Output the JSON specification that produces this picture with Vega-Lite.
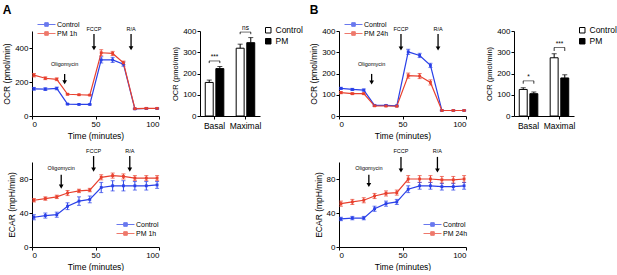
{
"$schema": "https://vega.github.io/schema/vega-lite/v6.json",
"padding": {"left": 2, "top": 4, "right": 0, "bottom": 0},
"config": {
  "font": "Liberation Sans",
  "view": {"stroke": null},
  "axis": {"grid": false, "domainColor": "black", "tickColor": "black", "labelColor": "black", "titleColor": "black", "labelFontSize": 8, "titleFontSize": 8.5, "titleFontWeight": "normal", "tickSize": 3, "labelPadding": 1, "titlePadding": 3, "labelOverlap": false, "labelSeparation": -100},
  "axisY": {"labelOverlap": false, "tickCount": 5, "labelSeparation": -100, "labelFlush": false},
  "axisX": {"labelOverlap": false, "labelSeparation": -100},
  "legend": {"labelColor": "black", "labelFontSize": 7.5},
  "title": {"color": "black"}
},
"datasets": {
  "ocrA": [
    {"t":1.5,"g":"Control","mean":160,"sem":8},{"t":10.5,"g":"Control","mean":158,"sem":8},{"t":19.5,"g":"Control","mean":162,"sem":8},{"t":28,"g":"Control","mean":70,"sem":3},{"t":37,"g":"Control","mean":68,"sem":3},{"t":45.5,"g":"Control","mean":68,"sem":3},{"t":54.5,"g":"Control","mean":330,"sem":18},{"t":63.5,"g":"Control","mean":330,"sem":15},{"t":72,"g":"Control","mean":305,"sem":12},{"t":81,"g":"Control","mean":42,"sem":3},{"t":90,"g":"Control","mean":44,"sem":3},{"t":98.5,"g":"Control","mean":44,"sem":3},
    {"t":1.5,"g":"PM 1h","mean":240,"sem":10},{"t":10.5,"g":"PM 1h","mean":222,"sem":8},{"t":19.5,"g":"PM 1h","mean":216,"sem":8},{"t":28,"g":"PM 1h","mean":128,"sem":4},{"t":37,"g":"PM 1h","mean":125,"sem":3},{"t":45.5,"g":"PM 1h","mean":123,"sem":3},{"t":54.5,"g":"PM 1h","mean":372,"sem":18},{"t":63.5,"g":"PM 1h","mean":368,"sem":12},{"t":72,"g":"PM 1h","mean":313,"sem":10},{"t":81,"g":"PM 1h","mean":43,"sem":3},{"t":90,"g":"PM 1h","mean":45,"sem":3},{"t":98.5,"g":"PM 1h","mean":45,"sem":3}
  ],
  "ocrB": [
    {"t":1.5,"g":"Control","mean":130,"sem":5},{"t":10.5,"g":"Control","mean":125,"sem":5},{"t":19.5,"g":"Control","mean":122,"sem":5},{"t":28,"g":"Control","mean":50,"sem":3},{"t":37,"g":"Control","mean":50,"sem":3},{"t":45.5,"g":"Control","mean":48,"sem":3},{"t":54.5,"g":"Control","mean":302,"sem":12},{"t":63.5,"g":"Control","mean":285,"sem":10},{"t":72,"g":"Control","mean":238,"sem":10},{"t":81,"g":"Control","mean":26,"sem":2},{"t":90,"g":"Control","mean":26,"sem":2},{"t":98.5,"g":"Control","mean":26,"sem":2},
    {"t":1.5,"g":"PM 24h","mean":110,"sem":5},{"t":10.5,"g":"PM 24h","mean":105,"sem":4},{"t":19.5,"g":"PM 24h","mean":105,"sem":4},{"t":28,"g":"PM 24h","mean":48,"sem":3},{"t":37,"g":"PM 24h","mean":47,"sem":3},{"t":45.5,"g":"PM 24h","mean":46,"sem":3},{"t":54.5,"g":"PM 24h","mean":190,"sem":12},{"t":63.5,"g":"PM 24h","mean":188,"sem":12},{"t":72,"g":"PM 24h","mean":158,"sem":12},{"t":81,"g":"PM 24h","mean":26,"sem":2},{"t":90,"g":"PM 24h","mean":26,"sem":2},{"t":98.5,"g":"PM 24h","mean":26,"sem":2}
  ],
  "ecarA": [
    {"t":1.5,"g":"Control","mean":35,"sem":3},{"t":10.5,"g":"Control","mean":37,"sem":3},{"t":19.5,"g":"Control","mean":38,"sem":3},{"t":28,"g":"Control","mean":48,"sem":4},{"t":37,"g":"Control","mean":54,"sem":5},{"t":45.5,"g":"Control","mean":56,"sem":4},{"t":54.5,"g":"Control","mean":70,"sem":6},{"t":63.5,"g":"Control","mean":72,"sem":6},{"t":72,"g":"Control","mean":72,"sem":6},{"t":81,"g":"Control","mean":72,"sem":5},{"t":90,"g":"Control","mean":72,"sem":5},{"t":98.5,"g":"Control","mean":73,"sem":4},
    {"t":1.5,"g":"PM 1h","mean":55,"sem":2},{"t":10.5,"g":"PM 1h","mean":57,"sem":2},{"t":19.5,"g":"PM 1h","mean":59,"sem":2},{"t":28,"g":"PM 1h","mean":63.5,"sem":3},{"t":37,"g":"PM 1h","mean":66,"sem":2},{"t":45.5,"g":"PM 1h","mean":67,"sem":2},{"t":54.5,"g":"PM 1h","mean":82,"sem":3},{"t":63.5,"g":"PM 1h","mean":84,"sem":3},{"t":72,"g":"PM 1h","mean":83,"sem":3},{"t":81,"g":"PM 1h","mean":81,"sem":3},{"t":90,"g":"PM 1h","mean":81,"sem":3},{"t":98.5,"g":"PM 1h","mean":81,"sem":3}
  ],
  "ecarB": [
    {"t":1.5,"g":"Control","mean":33,"sem":2},{"t":10.5,"g":"Control","mean":34,"sem":2},{"t":19.5,"g":"Control","mean":34,"sem":2},{"t":28,"g":"Control","mean":45,"sem":3},{"t":37,"g":"Control","mean":51,"sem":3},{"t":45.5,"g":"Control","mean":53,"sem":3},{"t":54.5,"g":"Control","mean":68,"sem":4},{"t":63.5,"g":"Control","mean":72,"sem":4},{"t":72,"g":"Control","mean":72,"sem":4},{"t":81,"g":"Control","mean":71,"sem":4},{"t":90,"g":"Control","mean":71,"sem":4},{"t":98.5,"g":"Control","mean":72,"sem":4},
    {"t":1.5,"g":"PM 24h","mean":51,"sem":3},{"t":10.5,"g":"PM 24h","mean":53,"sem":3},{"t":19.5,"g":"PM 24h","mean":55,"sem":3},{"t":28,"g":"PM 24h","mean":60,"sem":3},{"t":37,"g":"PM 24h","mean":63,"sem":3},{"t":45.5,"g":"PM 24h","mean":64,"sem":3},{"t":54.5,"g":"PM 24h","mean":80,"sem":4},{"t":63.5,"g":"PM 24h","mean":80,"sem":4},{"t":72,"g":"PM 24h","mean":80,"sem":4},{"t":81,"g":"PM 24h","mean":79,"sem":4},{"t":90,"g":"PM 24h","mean":79,"sem":4},{"t":98.5,"g":"PM 24h","mean":80,"sem":4}
  ],
  "arrOcrA": [
    {"x":25.7,"y0":247,"y1":198,"ylab":290,"label":"Oligomycin"},
    {"x":48.8,"y0":482,"y1":398,"ylab":492,"label":"FCCP"},
    {"x":78,"y0":482,"y1":398,"ylab":492,"label":"R/A"}
  ],
  "arrOcrB": [
    {"x":25.7,"y0":198,"y1":158,"ylab":232,"label":"Oligomycin"},
    {"x":48.8,"y0":386,"y1":318,"ylab":394,"label":"FCCP"},
    {"x":78,"y0":386,"y1":318,"ylab":394,"label":"R/A"}
  ],
  "arrEcarA": [
    {"x":23,"y0":85,"y1":71,"ylab":89,"label":"Oligomycin"},
    {"x":48.5,"y0":107,"y1":91,"ylab":110,"label":"FCCP"},
    {"x":77,"y0":107,"y1":91,"ylab":110,"label":"R/A"}
  ],
  "arrEcarB": [
    {"x":23.5,"y0":85,"y1":73,"ylab":90,"label":"Oligomycin"},
    {"x":48.8,"y0":106,"y1":90,"ylab":110,"label":"FCCP"},
    {"x":77.5,"y0":106,"y1":90,"ylab":110,"label":"R/A"}
  ],
  "barA": [
    {"cat":"Basal","g":"Control","mean":158,"hi":169},{"cat":"Basal","g":"PM","mean":223,"hi":233},
    {"cat":"Maximal","g":"Control","mean":319,"hi":338},{"cat":"Maximal","g":"PM","mean":345,"hi":369}
  ],
  "barB": [
    {"cat":"Basal","g":"Control","mean":125,"hi":133},{"cat":"Basal","g":"PM","mean":105,"hi":113},
    {"cat":"Maximal","g":"Control","mean":274,"hi":293},{"cat":"Maximal","g":"PM","mean":179,"hi":194}
  ],
  "sigA": [
    {"cat":"Basal","g":"Control","top":259,"leg":249},{"cat":"Basal","g":"PM","top":259,"leg":249},
    {"cat":"Maximal","g":"Control","top":395,"leg":385},{"cat":"Maximal","g":"PM","top":395,"leg":385}
  ],
  "sigLabA": [
    {"cat":"Basal","top":259,"label":"***"},{"cat":"Maximal","top":395,"label":"ns"}
  ],
  "sigB": [
    {"cat":"Basal","g":"Control","top":165,"leg":152},{"cat":"Basal","g":"PM","top":165,"leg":152},
    {"cat":"Maximal","g":"Control","top":322,"leg":306},{"cat":"Maximal","g":"PM","top":322,"leg":306}
  ],
  "sigLabB": [
    {"cat":"Basal","top":165,"label":"*"},{"cat":"Maximal","top":322,"label":"***"}
  ]
},
"resolve": {"scale": {"color": "independent", "fill": "independent"}, "legend": {"color": "independent", "fill": "independent"}},
"spacing": 6,
"hconcat": [
  {
    "title": {"text": "A", "anchor": "start", "fontSize": 12, "fontWeight": "bold", "offset": 4},
    "resolve": {"scale": {"color": "independent", "fill": "independent"}, "legend": {"color": "independent", "fill": "independent"}},
    "spacing": 11,
    "hconcat": [
      {
        "spacing": 8,
        "resolve": {"scale": {"color": "independent"}, "legend": {"color": "independent"}},
        "vconcat": [
          {
            "width": 127, "height": 85,
            "layer": [
              {"data": {"name": "ocrA"}, "mark": {"type": "errorbar", "ticks": {"size": 4}, "thickness": 1},
               "encoding": {"x": {"field": "t", "type": "quantitative", "scale": {"domain": [0, 100]}, "axis": {"values": [0, 50, 100], "labelOverlap": false, "title": "Time (minutes)"}},
                            "y": {"field": "mean", "type": "quantitative", "scale": {"domain": [0, 500]}, "title": "OCR (pmol/min)", "axis": {"values": [0, 100, 200, 300, 400, 500], "labelOverlap": false}},
                            "yError": {"field": "sem"},
                            "color": {"field": "g", "type": "nominal", "scale": {"domain": ["Control", "PM 1h"], "range": ["#2a40e8", "#e8402e"]}, "legend": {"orient": "none", "legendX": 3, "legendY": -10, "title": null, "symbolType": "M-3,0H3M-0.6,-0.6H0.6V0.6H-0.6Z", "symbolSize": 36, "symbolStrokeWidth": 1, "labelFontSize": 7, "rowPadding": 0, "labelOffset": 7, "symbolOffset": 8}}}},
              {"data": {"name": "ocrA"}, "mark": {"type": "line", "strokeWidth": 1.2, "point": {"shape": "square", "size": 8, "filled": true}},
               "encoding": {"x": {"field": "t", "type": "quantitative"},
                            "y": {"field": "mean", "type": "quantitative", "title": "OCR (pmol/min)", "axis": {"values": [0, 100, 200, 300, 400, 500], "labelOverlap": false}},
                            "color": {"field": "g", "type": "nominal", "legend": {"orient": "none", "legendX": 3, "legendY": -10, "title": null, "symbolType": "M-3,0H3M-0.6,-0.6H0.6V0.6H-0.6Z", "symbolSize": 36, "symbolStrokeWidth": 1, "labelFontSize": 7, "rowPadding": 0, "labelOffset": 7, "symbolOffset": 8}}}},
              {"data": {"name": "arrOcrA"}, "mark": {"type": "rule", "strokeWidth": 1.3, "color": "black"}, "encoding": {"x": {"field": "x", "type": "quantitative"}, "y": {"field": "y0", "type": "quantitative"}, "y2": {"field": "y1"}}},
              {"data": {"name": "arrOcrA"}, "mark": {"type": "point", "shape": "triangle-down", "filled": true, "color": "black", "size": 22, "opacity": 1}, "encoding": {"x": {"field": "x", "type": "quantitative"}, "y": {"field": "y1", "type": "quantitative"}}},
              {"data": {"name": "arrOcrA"}, "mark": {"type": "text", "fontSize": 5.5, "baseline": "bottom", "color": "black"}, "encoding": {"x": {"field": "x", "type": "quantitative"}, "y": {"field": "ylab", "type": "quantitative"}, "text": {"field": "label"}}}
            ]
          },
          {
            "width": 127, "height": 85,
            "layer": [
              {"data": {"name": "ecarA"}, "mark": {"type": "errorbar", "ticks": {"size": 4}, "thickness": 1},
               "encoding": {"x": {"field": "t", "type": "quantitative", "scale": {"domain": [0, 100]}, "axis": {"values": [0, 50, 100], "labelOverlap": false, "title": "Time (minutes)"}},
                            "y": {"field": "mean", "type": "quantitative", "scale": {"domain": [0, 100]}, "title": "ECAR (mpH/min)", "axis": {"values": [0, 20, 40, 60, 80, 100], "labelOverlap": false}},
                            "yError": {"field": "sem"},
                            "color": {"field": "g", "type": "nominal", "scale": {"domain": ["Control", "PM 1h"], "range": ["#2a40e8", "#e8402e"]}, "legend": {"orient": "none", "legendX": 82, "legendY": 59, "title": null, "symbolType": "M-3,0H3M-0.6,-0.6H0.6V0.6H-0.6Z", "symbolSize": 36, "symbolStrokeWidth": 1, "labelFontSize": 7, "rowPadding": 0, "labelOffset": 7, "symbolOffset": 8}}}},
              {"data": {"name": "ecarA"}, "mark": {"type": "line", "strokeWidth": 1.2, "point": {"shape": "square", "size": 8, "filled": true}},
               "encoding": {"x": {"field": "t", "type": "quantitative"},
                            "y": {"field": "mean", "type": "quantitative", "title": "ECAR (mpH/min)", "axis": {"values": [0, 20, 40, 60, 80, 100], "labelOverlap": false}},
                            "color": {"field": "g", "type": "nominal", "legend": {"orient": "none", "legendX": 82, "legendY": 59, "title": null, "symbolType": "M-3,0H3M-0.6,-0.6H0.6V0.6H-0.6Z", "symbolSize": 36, "symbolStrokeWidth": 1, "labelFontSize": 7, "rowPadding": 0, "labelOffset": 7, "symbolOffset": 8}}}},
              {"data": {"name": "arrEcarA"}, "mark": {"type": "rule", "strokeWidth": 1.3, "color": "black"}, "encoding": {"x": {"field": "x", "type": "quantitative"}, "y": {"field": "y0", "type": "quantitative"}, "y2": {"field": "y1"}}},
              {"data": {"name": "arrEcarA"}, "mark": {"type": "point", "shape": "triangle-down", "filled": true, "color": "black", "size": 22, "opacity": 1}, "encoding": {"x": {"field": "x", "type": "quantitative"}, "y": {"field": "y1", "type": "quantitative"}}},
              {"data": {"name": "arrEcarA"}, "mark": {"type": "text", "fontSize": 5.5, "baseline": "bottom", "color": "black"}, "encoding": {"x": {"field": "x", "type": "quantitative"}, "y": {"field": "ylab", "type": "quantitative"}, "text": {"field": "label"}}}
            ]
          }
        ]
      },
      {
        "width": 60, "height": 85,
        "encoding": {
          "x": {"field": "cat", "type": "nominal", "scale": {"paddingInner": 0.4, "paddingOuter": 0.17}, "axis": {"title": null, "labelAngle": 0, "labelFontSize": 8.5, "labelPadding": 2}}
        },
        "layer": [
          {"data": {"name": "barA"}, "mark": {"type": "bar", "stroke": "black", "strokeWidth": 1},
           "encoding": {"xOffset": {"field": "g", "type": "nominal", "scale": {"paddingInner": 0.25, "paddingOuter": 0}},
                        "y": {"field": "mean", "type": "quantitative", "scale": {"domain": [0, 400]}, "axis": {"values": [0, 100, 200, 300, 400], "labelOverlap": false, "titleFontSize": 7.5}, "title": "OCR (pmol/min)"},
                        "fill": {"field": "g", "type": "nominal", "scale": {"domain": ["Control", "PM"], "range": ["white", "black"]},
                                 "legend": {"orient": "none", "legendX": 64, "legendY": -5, "title": null, "symbolType": "square", "symbolSize": 30, "symbolStrokeColor": "black", "symbolStrokeWidth": 1, "labelFontSize": 8.5, "rowPadding": 1, "labelOffset": 3}}}},
          {"data": {"name": "barA"}, "mark": {"type": "rule", "color": "black", "strokeWidth": 1}, "encoding": {"xOffset": {"field": "g", "type": "nominal"}, "y": {"field": "mean", "type": "quantitative"}, "y2": {"field": "hi"}}},
          {"data": {"name": "barA"}, "mark": {"type": "tick", "color": "black", "thickness": 1, "size": 5}, "encoding": {"xOffset": {"field": "g", "type": "nominal"}, "y": {"field": "hi", "type": "quantitative"}}},
          {"data": {"name": "sigA"}, "mark": {"type": "rule", "color": "black", "strokeWidth": 0.8}, "encoding": {"xOffset": {"field": "g", "type": "nominal"}, "y": {"field": "leg", "type": "quantitative"}, "y2": {"field": "top"}}},
          {"data": {"name": "sigLabA"}, "mark": {"type": "tick", "color": "black", "thickness": 0.8, "size": 11}, "encoding": {"y": {"field": "top", "type": "quantitative"}}},
          {"data": {"name": "sigLabA"}, "mark": {"type": "text", "fontSize": 6.5, "baseline": "bottom", "dy": -1, "color": "black"}, "encoding": {"y": {"field": "top", "type": "quantitative"}, "text": {"field": "label"}}}
        ]
      }
    ]
  },
  {
    "title": {"text": "B", "anchor": "start", "fontSize": 12, "fontWeight": "bold", "offset": 4},
    "resolve": {"scale": {"color": "independent", "fill": "independent"}, "legend": {"color": "independent", "fill": "independent"}},
    "spacing": 17,
    "hconcat": [
      {
        "spacing": 8,
        "resolve": {"scale": {"color": "independent"}, "legend": {"color": "independent"}},
        "vconcat": [
          {
            "width": 127, "height": 85,
            "layer": [
              {"data": {"name": "ocrB"}, "mark": {"type": "errorbar", "ticks": {"size": 4}, "thickness": 1},
               "encoding": {"x": {"field": "t", "type": "quantitative", "scale": {"domain": [0, 100]}, "axis": {"values": [0, 50, 100], "labelOverlap": false, "title": "Time (minutes)"}},
                            "y": {"field": "mean", "type": "quantitative", "scale": {"domain": [0, 400]}, "title": "OCR (pmol/min)", "axis": {"values": [0, 100, 200, 300, 400], "labelOverlap": false}},
                            "yError": {"field": "sem"},
                            "color": {"field": "g", "type": "nominal", "scale": {"domain": ["Control", "PM 24h"], "range": ["#2a40e8", "#e8402e"]}, "legend": {"orient": "none", "legendX": 3, "legendY": -10, "title": null, "symbolType": "M-3,0H3M-0.6,-0.6H0.6V0.6H-0.6Z", "symbolSize": 36, "symbolStrokeWidth": 1, "labelFontSize": 7, "rowPadding": 0, "labelOffset": 7, "symbolOffset": 8}}}},
              {"data": {"name": "ocrB"}, "mark": {"type": "line", "strokeWidth": 1.2, "point": {"shape": "square", "size": 8, "filled": true}},
               "encoding": {"x": {"field": "t", "type": "quantitative"},
                            "y": {"field": "mean", "type": "quantitative", "title": "OCR (pmol/min)", "axis": {"values": [0, 100, 200, 300, 400], "labelOverlap": false}},
                            "color": {"field": "g", "type": "nominal", "legend": {"orient": "none", "legendX": 3, "legendY": -10, "title": null, "symbolType": "M-3,0H3M-0.6,-0.6H0.6V0.6H-0.6Z", "symbolSize": 36, "symbolStrokeWidth": 1, "labelFontSize": 7, "rowPadding": 0, "labelOffset": 7, "symbolOffset": 8}}}},
              {"data": {"name": "arrOcrB"}, "mark": {"type": "rule", "strokeWidth": 1.3, "color": "black"}, "encoding": {"x": {"field": "x", "type": "quantitative"}, "y": {"field": "y0", "type": "quantitative"}, "y2": {"field": "y1"}}},
              {"data": {"name": "arrOcrB"}, "mark": {"type": "point", "shape": "triangle-down", "filled": true, "color": "black", "size": 22, "opacity": 1}, "encoding": {"x": {"field": "x", "type": "quantitative"}, "y": {"field": "y1", "type": "quantitative"}}},
              {"data": {"name": "arrOcrB"}, "mark": {"type": "text", "fontSize": 5.5, "baseline": "bottom", "color": "black"}, "encoding": {"x": {"field": "x", "type": "quantitative"}, "y": {"field": "ylab", "type": "quantitative"}, "text": {"field": "label"}}}
            ]
          },
          {
            "width": 127, "height": 85,
            "layer": [
              {"data": {"name": "ecarB"}, "mark": {"type": "errorbar", "ticks": {"size": 4}, "thickness": 1},
               "encoding": {"x": {"field": "t", "type": "quantitative", "scale": {"domain": [0, 100]}, "axis": {"values": [0, 50, 100], "labelOverlap": false, "title": "Time (minutes)"}},
                            "y": {"field": "mean", "type": "quantitative", "scale": {"domain": [0, 100]}, "title": "ECAR (mpH/min)", "axis": {"values": [0, 20, 40, 60, 80, 100], "labelOverlap": false}},
                            "yError": {"field": "sem"},
                            "color": {"field": "g", "type": "nominal", "scale": {"domain": ["Control", "PM 24h"], "range": ["#2a40e8", "#e8402e"]}, "legend": {"orient": "none", "legendX": 82, "legendY": 59, "title": null, "symbolType": "M-3,0H3M-0.6,-0.6H0.6V0.6H-0.6Z", "symbolSize": 36, "symbolStrokeWidth": 1, "labelFontSize": 7, "rowPadding": 0, "labelOffset": 7, "symbolOffset": 8}}}},
              {"data": {"name": "ecarB"}, "mark": {"type": "line", "strokeWidth": 1.2, "point": {"shape": "square", "size": 8, "filled": true}},
               "encoding": {"x": {"field": "t", "type": "quantitative"},
                            "y": {"field": "mean", "type": "quantitative", "title": "ECAR (mpH/min)", "axis": {"values": [0, 20, 40, 60, 80, 100], "labelOverlap": false}},
                            "color": {"field": "g", "type": "nominal", "legend": {"orient": "none", "legendX": 82, "legendY": 59, "title": null, "symbolType": "M-3,0H3M-0.6,-0.6H0.6V0.6H-0.6Z", "symbolSize": 36, "symbolStrokeWidth": 1, "labelFontSize": 7, "rowPadding": 0, "labelOffset": 7, "symbolOffset": 8}}}},
              {"data": {"name": "arrEcarB"}, "mark": {"type": "rule", "strokeWidth": 1.3, "color": "black"}, "encoding": {"x": {"field": "x", "type": "quantitative"}, "y": {"field": "y0", "type": "quantitative"}, "y2": {"field": "y1"}}},
              {"data": {"name": "arrEcarB"}, "mark": {"type": "point", "shape": "triangle-down", "filled": true, "color": "black", "size": 22, "opacity": 1}, "encoding": {"x": {"field": "x", "type": "quantitative"}, "y": {"field": "y1", "type": "quantitative"}}},
              {"data": {"name": "arrEcarB"}, "mark": {"type": "text", "fontSize": 5.5, "baseline": "bottom", "color": "black"}, "encoding": {"x": {"field": "x", "type": "quantitative"}, "y": {"field": "ylab", "type": "quantitative"}, "text": {"field": "label"}}}
            ]
          }
        ]
      },
      {
        "width": 60, "height": 85,
        "encoding": {
          "x": {"field": "cat", "type": "nominal", "scale": {"paddingInner": 0.4, "paddingOuter": 0.17}, "axis": {"title": null, "labelAngle": 0, "labelFontSize": 8.5, "labelPadding": 2}}
        },
        "layer": [
          {"data": {"name": "barB"}, "mark": {"type": "bar", "stroke": "black", "strokeWidth": 1},
           "encoding": {"xOffset": {"field": "g", "type": "nominal", "scale": {"paddingInner": 0.25, "paddingOuter": 0}},
                        "y": {"field": "mean", "type": "quantitative", "scale": {"domain": [0, 400]}, "axis": {"values": [0, 100, 200, 300, 400], "labelOverlap": false, "titleFontSize": 7.5}, "title": "OCR (pmol/min)"},
                        "fill": {"field": "g", "type": "nominal", "scale": {"domain": ["Control", "PM"], "range": ["white", "black"]},
                                 "legend": {"orient": "none", "legendX": 64, "legendY": -5, "title": null, "symbolType": "square", "symbolSize": 30, "symbolStrokeColor": "black", "symbolStrokeWidth": 1, "labelFontSize": 8.5, "rowPadding": 1, "labelOffset": 3}}}},
          {"data": {"name": "barB"}, "mark": {"type": "rule", "color": "black", "strokeWidth": 1}, "encoding": {"xOffset": {"field": "g", "type": "nominal"}, "y": {"field": "mean", "type": "quantitative"}, "y2": {"field": "hi"}}},
          {"data": {"name": "barB"}, "mark": {"type": "tick", "color": "black", "thickness": 1, "size": 5}, "encoding": {"xOffset": {"field": "g", "type": "nominal"}, "y": {"field": "hi", "type": "quantitative"}}},
          {"data": {"name": "sigB"}, "mark": {"type": "rule", "color": "black", "strokeWidth": 0.8}, "encoding": {"xOffset": {"field": "g", "type": "nominal"}, "y": {"field": "leg", "type": "quantitative"}, "y2": {"field": "top"}}},
          {"data": {"name": "sigLabB"}, "mark": {"type": "tick", "color": "black", "thickness": 0.8, "size": 11}, "encoding": {"y": {"field": "top", "type": "quantitative"}}},
          {"data": {"name": "sigLabB"}, "mark": {"type": "text", "fontSize": 6.5, "baseline": "bottom", "dy": -1, "color": "black"}, "encoding": {"y": {"field": "top", "type": "quantitative"}, "text": {"field": "label"}}}
        ]
      }
    ]
  }
]
}
